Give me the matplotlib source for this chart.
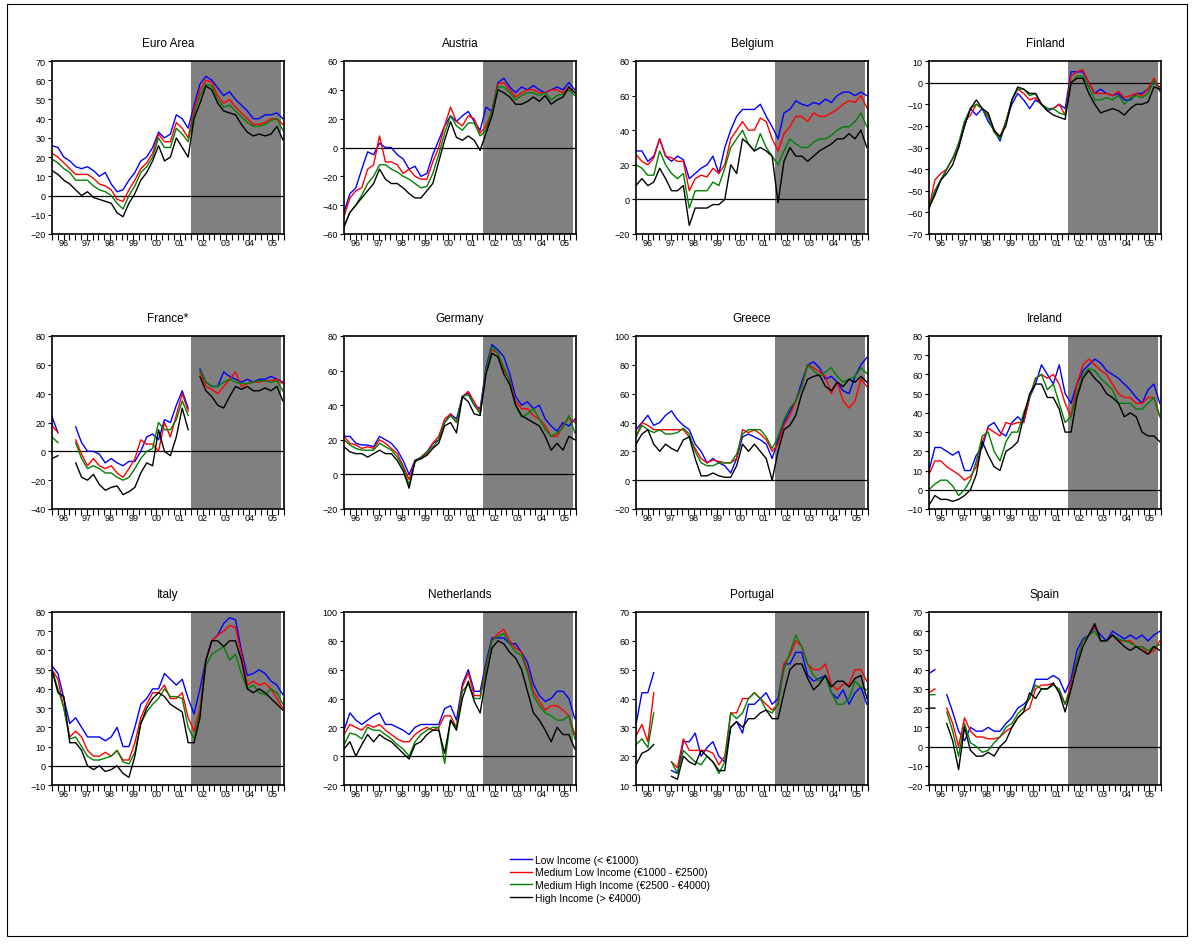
import numpy as np
import matplotlib.pyplot as plt
from matplotlib.patches import Rectangle
from matplotlib.lines import Line2D

nan = np.nan

# quarterly readings 1996Q1 .. 2005Q4 (low, medium low, medium high, high income)
euro_low = [26, 25, 20, 18, 15, 14, 15, 13, 10, 12, 6, 2, 3, 8, 12, 18, 20, 25, 33, 30, 32, 42, 40, 35, 47, 58, 62, 60, 56, 52, 54, 50, 47, 44, 40, 40, 42, 42, 43, 40]
euro_medlow = [22, 20, 17, 14, 11, 11, 11, 9, 6, 5, 3, -2, -3, 3, 8, 14, 17, 22, 32, 28, 28, 38, 35, 30, 45, 55, 60, 59, 52, 48, 50, 46, 43, 40, 37, 37, 38, 40, 40, 37]
euro_medhigh = [19, 17, 14, 12, 8, 8, 8, 5, 3, 2, 0, -4, -7, 0, 5, 12, 15, 20, 30, 25, 25, 35, 32, 28, 42, 52, 58, 57, 50, 46, 47, 44, 41, 38, 36, 36, 37, 39, 40, 34]
euro_high = [13, 11, 8, 6, 3, 0, 2, -1, -2, -3, -4, -9, -11, -4, 1, 8, 12, 18, 26, 18, 20, 30, 25, 20, 40, 48, 57, 55, 48, 44, 43, 42, 37, 33, 31, 32, 31, 32, 36, 29]

austria_low = [-45, -32, -28, -15, -3, -5, 3, 0, 0, -5, -8, -15, -13, -20, -18, -5, 5, 15, 22, 18, 22, 25, 18, 12, 28, 25, 45, 48, 42, 38, 42, 40, 43, 40, 38, 40, 42, 40, 45, 40]
austria_medlow = [-48, -35, -30, -28, -15, -12, 8, -10, -10, -12, -18, -15, -20, -22, -22, -10, 0, 15, 28, 18, 15, 22, 20, 10, 15, 25, 44, 45, 40, 35, 38, 40, 40, 38, 38, 40, 40, 38, 42, 38]
austria_medhigh = [-55, -45, -40, -33, -25, -20, -12, -12, -15, -17, -20, -22, -25, -28, -27, -18, -5, 10, 22, 15, 12, 17, 17, 8, 12, 25, 42, 42, 38, 33, 36, 38, 38, 36, 38, 33, 36, 37, 40, 36]
austria_high = [-55, -45, -40, -35, -30, -25, -15, -22, -25, -25, -28, -32, -35, -35, -30, -25, -10, 5, 18, 7, 5, 8, 5, -2, 10, 22, 40, 38, 35, 30, 30, 32, 35, 32, 36, 30, 33, 35, 42, 38]

belgium_low = [28, 28, 22, 25, 35, 25, 22, 25, 23, 12, 15, 18, 20, 25, 15, 30, 40, 48, 52, 52, 52, 55, 48, 42, 35, 50, 52, 57, 55, 54, 56, 55, 58, 56, 60, 62, 62, 60, 62, 60]
belgium_medlow = [26, 22, 20, 24, 35, 25, 24, 22, 22, 5, 12, 14, 13, 18, 15, 20, 35, 40, 45, 40, 40, 47, 45, 35, 28, 38, 42, 48, 48, 45, 50, 48, 48, 50, 52, 55, 57, 56, 60, 53]
belgium_medhigh = [20, 18, 14, 14, 28, 20, 15, 12, 15, -5, 5, 5, 5, 10, 8, 18, 30, 35, 40, 32, 28, 38, 30, 25, 20, 28, 35, 32, 30, 30, 33, 35, 35, 37, 40, 42, 42, 45, 50, 42]
belgium_high = [8, 12, 8, 10, 18, 12, 5, 5, 8, -15, -5, -5, -5, -3, -3, 0, 20, 15, 35, 32, 28, 30, 28, 25, -2, 22, 30, 25, 25, 22, 25, 28, 30, 32, 35, 35, 38, 35, 40, 30]

finland_low = [-58, -50, -45, -40, -35, -30, -20, -12, -15, -12, -18, -22, -27, -18, -10, -5, -8, -12, -8, -10, -13, -12, -10, -12, 5, 5, 5, 0, -5, -3, -5, -6, -5, -8, -8, -5, -5, -3, 0, -2]
finland_medlow = [-58, -45, -42, -40, -35, -30, -18, -15, -10, -12, -15, -22, -25, -18, -8, -3, -5, -8, -7, -10, -12, -12, -10, -15, 3, 5, 6, 0, -5, -5, -5, -6, -4, -7, -6, -5, -6, -3, 2, -3]
finland_medhigh = [-58, -50, -45, -40, -35, -28, -18, -12, -10, -12, -16, -23, -26, -18, -8, -3, -3, -6, -5, -10, -12, -12, -14, -15, 0, 3, 3, -2, -8, -8, -7, -8, -6, -10, -7, -6, -7, -5, 1, -4]
finland_high = [-58, -52, -45, -42, -38, -30, -20, -12, -8, -12, -14, -22, -25, -20, -8, -2, -3, -5, -5, -10, -13, -15, -16, -17, 0, 2, 2, -5, -10, -14, -13, -12, -13, -15, -12, -10, -10, -9, -2, -3]

france_low = [24, 13, nan, nan, 17, 6, 0, 0, -2, -8, -5, -8, -10, -7, -7, 0, 10, 12, 8, 22, 20, 32, 42, 30, nan, 57, 48, 45, 45, 55, 52, 50, 48, 50, 48, 50, 50, 52, 50, 48]
france_medlow = [18, 13, nan, nan, 8, -2, -10, -5, -10, -12, -10, -15, -18, -12, -5, 8, 5, 5, 0, 20, 10, 25, 40, 28, nan, 55, 45, 43, 40, 45, 50, 55, 45, 47, 48, 48, 49, 49, 50, 47]
france_medhigh = [10, 6, nan, nan, 6, -5, -12, -10, -12, -15, -15, -18, -20, -18, -12, -5, 0, 2, 20, 15, 15, 22, 35, 25, nan, 56, 48, 45, 45, 48, 50, 48, 47, 47, 48, 49, 49, 48, 49, 42]
france_high = [-5, -3, nan, nan, -8, -18, -20, -16, -23, -27, -25, -24, -30, -28, -25, -15, -8, -10, 15, 0, -3, 10, 30, 15, nan, 52, 42, 38, 32, 30, 38, 45, 43, 45, 42, 42, 44, 42, 45, 35]

germany_low = [22, 22, 18, 17, 17, 16, 22, 20, 18, 14, 8, 0, 8, 10, 13, 18, 20, 30, 35, 32, 45, 47, 40, 38, 62, 75, 72, 68, 58, 45, 40, 42, 38, 40, 32, 28, 25, 30, 28, 32]
germany_medlow = [22, 18, 17, 15, 16, 15, 20, 18, 15, 12, 5, -3, 8, 9, 12, 18, 22, 32, 35, 30, 45, 48, 42, 36, 60, 72, 70, 60, 55, 42, 38, 38, 34, 32, 28, 22, 22, 28, 33, 30]
germany_medhigh = [20, 17, 15, 14, 14, 14, 18, 16, 14, 10, 4, -6, 7, 10, 13, 16, 20, 30, 34, 30, 45, 46, 40, 35, 60, 74, 70, 62, 54, 40, 33, 35, 38, 32, 26, 22, 24, 27, 34, 24]
germany_high = [16, 13, 12, 12, 10, 12, 14, 12, 12, 8, 2, -8, 8, 9, 11, 15, 18, 28, 30, 24, 45, 42, 35, 34, 58, 70, 68, 58, 52, 40, 34, 32, 30, 28, 22, 14, 18, 14, 22, 20]

greece_low = [35, 40, 45, 38, 40, 45, 48, 42, 38, 35, 25, 20, 12, 15, 12, 10, 5, 15, 30, 32, 30, 28, 25, 15, 28, 40, 48, 55, 68, 80, 82, 78, 70, 72, 68, 62, 60, 72, 80, 85]
greece_medlow = [30, 40, 38, 35, 35, 35, 35, 35, 35, 30, 22, 15, 12, 14, 13, 12, 12, 15, 35, 33, 35, 32, 28, 20, 25, 38, 45, 55, 65, 80, 78, 75, 72, 60, 68, 55, 50, 55, 70, 65]
greece_medhigh = [30, 38, 35, 33, 35, 32, 32, 33, 36, 32, 20, 12, 10, 10, 12, 12, 12, 18, 32, 35, 35, 35, 30, 22, 30, 42, 50, 55, 65, 80, 76, 72, 75, 78, 72, 68, 70, 72, 78, 74]
greece_high = [25, 32, 35, 25, 20, 25, 22, 20, 28, 30, 15, 3, 3, 5, 3, 2, 2, 10, 25, 20, 25, 20, 15, 0, 20, 35, 38, 45, 60, 70, 72, 73, 65, 62, 68, 65, 70, 68, 72, 68]

ireland_low = [10, 22, 22, 20, 18, 20, 10, 10, 18, 22, 33, 35, 30, 28, 35, 38, 35, 48, 55, 65, 60, 55, 65, 50, 45, 55, 62, 65, 68, 66, 62, 60, 58, 55, 52, 48, 45, 52, 55, 45]
ireland_medlow = [8, 15, 15, 12, 10, 8, 5, 7, 12, 25, 32, 30, 28, 35, 34, 35, 35, 48, 58, 60, 58, 60, 55, 45, 38, 55, 65, 68, 65, 62, 60, 55, 50, 48, 48, 45, 45, 48, 48, 38]
ireland_medhigh = [0, 3, 5, 5, 2, -3, 0, 5, 15, 28, 30, 20, 15, 25, 30, 30, 40, 48, 58, 60, 52, 55, 45, 35, 38, 50, 60, 63, 62, 58, 55, 52, 45, 45, 45, 42, 42, 45, 48, 38]
ireland_high = [-8, -3, -5, -5, -6, -5, -3, 0, 8, 25, 18, 12, 10, 20, 22, 25, 38, 50, 55, 55, 48, 48, 42, 30, 30, 48, 58, 62, 58, 55, 50, 48, 45, 38, 40, 38, 30, 28, 28, 25]

italy_low = [52, 48, 35, 22, 25, 20, 15, 15, 15, 13, 15, 20, 10, 10, 20, 32, 35, 40, 40, 48, 45, 42, 45, 35, 27, 40, 55, 65, 68, 74, 77, 76, 60, 47, 48, 50, 48, 44, 42, 37]
italy_medlow = [50, 45, 30, 15, 18, 15, 8, 5, 5, 7, 5, 8, 3, 3, 12, 25, 32, 38, 38, 42, 35, 35, 38, 25, 18, 30, 55, 65, 68, 70, 73, 72, 58, 42, 44, 42, 43, 40, 35, 30]
italy_medhigh = [50, 40, 30, 14, 15, 10, 5, 3, 3, 4, 5, 8, 2, 1, 7, 22, 28, 32, 35, 40, 36, 36, 35, 20, 14, 28, 52, 58, 60, 62, 55, 58, 48, 40, 42, 38, 37, 40, 38, 32]
italy_high = [50, 38, 36, 12, 12, 8, 0, -2, 0, -3, -2, 0, -4, -6, 5, 22, 30, 35, 38, 36, 32, 30, 28, 12, 12, 25, 55, 65, 65, 62, 65, 65, 55, 40, 38, 40, 38, 35, 32, 29]

netherlands_low = [18, 30, 25, 22, 25, 28, 30, 22, 22, 20, 18, 15, 20, 22, 22, 22, 22, 33, 35, 25, 50, 60, 45, 45, 65, 82, 82, 82, 78, 78, 72, 65, 50, 42, 38, 40, 45, 45, 40, 26]
netherlands_medlow = [15, 22, 20, 18, 22, 20, 22, 18, 15, 12, 10, 10, 15, 18, 20, 18, 20, 28, 28, 20, 48, 58, 42, 42, 62, 80, 85, 88, 80, 75, 72, 60, 45, 38, 32, 35, 35, 32, 28, 15]
netherlands_medhigh = [8, 16, 15, 12, 20, 18, 18, 15, 12, 8, 5, 0, 10, 15, 18, 20, 20, -5, 25, 20, 45, 50, 40, 40, 60, 80, 83, 85, 78, 72, 70, 58, 42, 35, 30, 28, 25, 25, 28, 12]
netherlands_high = [5, 10, 0, 8, 15, 10, 15, 12, 10, 6, 2, -2, 8, 10, 15, 18, 18, 2, 25, 18, 40, 52, 38, 30, 55, 75, 80, 78, 72, 68, 60, 45, 30, 25, 18, 10, 20, 15, 15, 5]

portugal_low = [31, 42, 42, 49, nan, nan, 15, 14, 25, 25, 28, 20, 23, 25, 20, 18, 30, 32, 28, 38, 38, 40, 42, 38, 40, 52, 52, 56, 56, 48, 46, 47, 48, 42, 40, 43, 38, 42, 44, 38]
portugal_medlow = [27, 31, 25, 42, nan, nan, 18, 16, 26, 22, 22, 22, 22, 21, 17, 20, 35, 35, 40, 40, 42, 40, 38, 36, 38, 52, 55, 60, 58, 52, 50, 50, 52, 45, 43, 45, 45, 50, 50, 46]
portugal_medhigh = [24, 26, 23, 35, nan, nan, 18, 14, 22, 20, 18, 17, 20, 18, 14, 18, 35, 33, 35, 40, 42, 40, 36, 35, 38, 50, 56, 62, 58, 52, 48, 46, 48, 42, 38, 38, 40, 46, 44, 43]
portugal_high = [17, 21, 22, 24, nan, nan, 13, 12, 20, 18, 17, 22, 20, 18, 15, 15, 30, 32, 30, 33, 33, 35, 36, 33, 33, 42, 50, 52, 52, 47, 43, 45, 48, 44, 46, 46, 44, 47, 48, 40]

spain_low = [38, 40, nan, 27, 18, 8, 3, 10, 8, 8, 10, 8, 8, 12, 15, 20, 22, 25, 35, 35, 35, 37, 35, 28, 35, 50, 56, 58, 62, 58, 55, 60, 58, 56, 58, 56, 58, 55, 58, 60]
spain_medlow = [28, 30, nan, 20, 12, 0, 15, 8, 5, 5, 4, 4, 5, 8, 10, 15, 18, 20, 30, 32, 32, 33, 28, 22, 33, 45, 55, 58, 63, 55, 55, 58, 55, 55, 55, 52, 52, 48, 50, 55]
spain_medhigh = [27, 27, nan, 18, 8, -5, 12, 2, 0, -3, -2, 2, 5, 10, 12, 17, 20, 25, 32, 30, 30, 32, 30, 22, 30, 45, 55, 58, 60, 55, 55, 58, 56, 55, 54, 52, 52, 50, 52, 53]
spain_high = [20, 20, nan, 12, 3, -12, 10, -2, -5, -5, -3, -5, 0, 3, 10, 15, 18, 28, 25, 30, 30, 33, 28, 18, 30, 42, 52, 58, 64, 55, 55, 58, 55, 52, 50, 52, 50, 48, 52, 50]

titles = ["Euro Area", "Austria", "Belgium", "Finland", "France*", "Germany",
          "Greece", "Ireland", "Italy", "Netherlands", "Portugal", "Spain"]
series = [
    (euro_low, euro_medlow, euro_medhigh, euro_high),
    (austria_low, austria_medlow, austria_medhigh, austria_high),
    (belgium_low, belgium_medlow, belgium_medhigh, belgium_high),
    (finland_low, finland_medlow, finland_medhigh, finland_high),
    (france_low, france_medlow, france_medhigh, france_high),
    (germany_low, germany_medlow, germany_medhigh, germany_high),
    (greece_low, greece_medlow, greece_medhigh, greece_high),
    (ireland_low, ireland_medlow, ireland_medhigh, ireland_high),
    (italy_low, italy_medlow, italy_medhigh, italy_high),
    (netherlands_low, netherlands_medlow, netherlands_medhigh, netherlands_high),
    (portugal_low, portugal_medlow, portugal_medhigh, portugal_high),
    (spain_low, spain_medlow, spain_medhigh, spain_high),
]
y_ranges = [(-20, 70, 10), (-60, 60, 20), (-20, 80, 20), (-70, 10, 10),
            (-40, 80, 20), (-20, 80, 20), (-20, 100, 20), (-10, 80, 10),
            (-10, 80, 10), (-20, 100, 20), (10, 70, 10), (-20, 70, 10)]
year_labels = ["96", "97", "98", "99", "00", "01", "02", "03", "04", "05"]
legend_labels = ["Low Income (< €1000)", "Medium Low Income (€1000 - €2500)",
                 "Medium High Income (€2500 - €4000)", "High Income (> €4000)"]
colors = ["#0000ff", "#ff0000", "#008000", "#000000"]

plt.rcParams['font.family'] = ['Liberation Sans', 'DejaVu Sans']

W, H = 1194, 945
fig = plt.figure(figsize=(W / 100, H / 100), dpi=100)

# time stamps of the quarterly readings
t = np.linspace(1996.0, 2005.95, 40)

col_left = [52, 344, 636, 929]
row_top = [62, 337, 613]
AW, AH = 232, 173

for i in range(12):
    r, c = divmod(i, 4)
    ax = fig.add_axes([col_left[c] / W, 1 - (row_top[r] + AH) / H, AW / W, AH / H])
    ax.axvspan(2002.0, 2005.87, color='#808080', lw=0, zorder=0)
    ax.axhline(0, color='black', lw=0.9, zorder=1)
    for vals, col in zip(series[i], colors):
        ax.plot(t, vals, color=col, lw=1.0, zorder=2)
    lo, hi, step = y_ranges[i]
    ax.set_xlim(1996, 2006)
    ax.set_ylim(lo, hi)
    ax.set_yticks(np.arange(lo, hi + 1, step))
    # quarter tick marks, year labels centred between them
    ax.xaxis.remove_overlapping_locs = False
    ax.set_xticks(np.arange(1996, 2006.01, 0.25))
    ax.set_xticklabels([])
    ax.set_xticks(np.arange(1996.5, 2006, 1), minor=True)
    ax.set_xticklabels(year_labels, minor=True)
    ax.tick_params(axis='x', which='major', length=4, width=0.8)
    ax.tick_params(axis='x', which='minor', length=0, pad=3, labelsize=6.5)
    ax.tick_params(axis='y', length=3, width=0.8, pad=1.5, labelsize=6.5)
    for s in ax.spines.values():
        s.set_linewidth(1.2)
    ax.set_title(titles[i], fontsize=8.5, pad=11)

handles = [Line2D([], [], color=col, lw=1.0) for col in colors]
fig.legend(handles, legend_labels, loc='center', bbox_to_anchor=(0.511, 0.069),
           frameon=False, fontsize=7.5, handlelength=2.1, handletextpad=0.3,
           labelspacing=0.25)

fig.patches.append(Rectangle((0.006, 0.008), 0.988, 0.987, transform=fig.transFigure,
                             fill=False, ec='black', lw=0.8))

fig.savefig("out.png", dpi=100)
